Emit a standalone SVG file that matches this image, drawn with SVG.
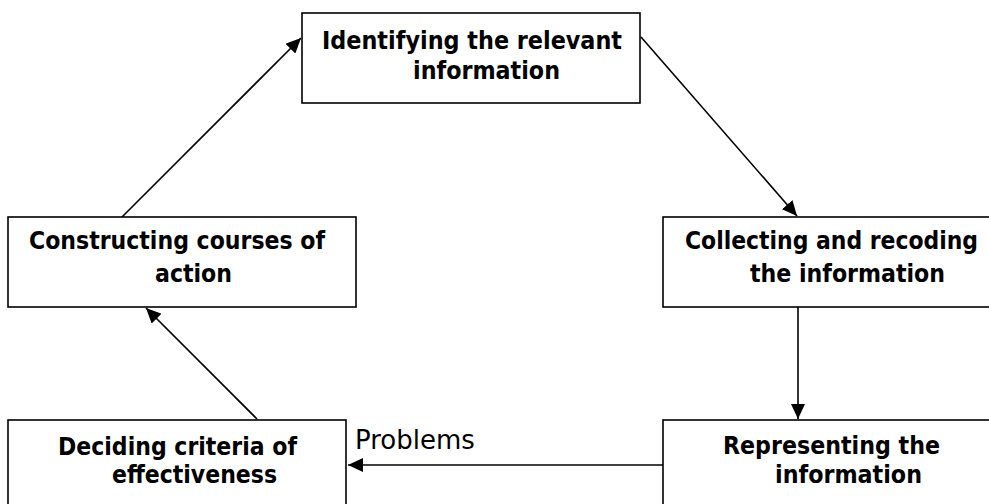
<svg xmlns="http://www.w3.org/2000/svg" width="989" height="504" viewBox="0 0 989 504">
<style>
.box{fill:#fff;stroke:#000;stroke-width:1.6}
.t{font-family:"DejaVu Sans",Verdana,sans-serif;font-weight:bold;font-size:24px;fill:#000}
.lbl{font-family:"DejaVu Sans",Verdana,sans-serif;font-size:26px;fill:#000}
.c{stroke:#000;stroke-width:1.6;fill:none;marker-end:url(#ah)}
</style>
<defs>
<marker id="ah" markerUnits="userSpaceOnUse" markerWidth="16" markerHeight="14" refX="15" refY="7" orient="auto">
<path d="M0,0 L15,7 L0,14 Z" fill="#000"/>
</marker>
</defs>
<g id="connectors">
<line class="c" x1="641" y1="37" x2="797" y2="216"/>
<line class="c" x1="798" y1="307" x2="798" y2="419"/>
<line class="c" x1="663" y1="465" x2="348" y2="465"/>
<line class="c" x1="257" y1="419" x2="146" y2="308"/>
<line class="c" x1="122" y1="217" x2="301" y2="38"/>
</g>
<g id="n-identify">
<rect class="box" x="302" y="13" width="338" height="90"/>
<text class="t" x="322" y="49" textLength="300" lengthAdjust="spacingAndGlyphs">Identifying the relevant</text>
<text class="t" x="413" y="79" textLength="147" lengthAdjust="spacingAndGlyphs">information</text>
</g>
<g id="n-collect">
<rect class="box" x="663" y="217" width="340" height="90"/>
<text class="t" x="685" y="249" textLength="293" lengthAdjust="spacingAndGlyphs">Collecting and recoding</text>
<text class="t" x="750" y="282" textLength="195" lengthAdjust="spacingAndGlyphs">the information</text>
</g>
<g id="n-represent">
<rect class="box" x="663" y="420" width="340" height="100"/>
<text class="t" x="723" y="454" textLength="217" lengthAdjust="spacingAndGlyphs">Representing the</text>
<text class="t" x="775" y="483" textLength="147" lengthAdjust="spacingAndGlyphs">information</text>
</g>
<g id="n-deciding">
<rect class="box" x="8" y="420" width="338" height="100"/>
<text class="t" x="58" y="455" textLength="239" lengthAdjust="spacingAndGlyphs">Deciding criteria of</text>
<text class="t" x="112" y="483" textLength="165" lengthAdjust="spacingAndGlyphs">effectiveness</text>
</g>
<g id="n-constructing">
<rect class="box" x="8" y="217" width="348" height="90"/>
<text class="t" x="29" y="249" textLength="296" lengthAdjust="spacingAndGlyphs">Constructing courses of</text>
<text class="t" x="155" y="282" textLength="77" lengthAdjust="spacingAndGlyphs">action</text>
</g>
<g id="label-problems">
<text class="lbl" x="355" y="449">Problems</text>
</g>
</svg>
